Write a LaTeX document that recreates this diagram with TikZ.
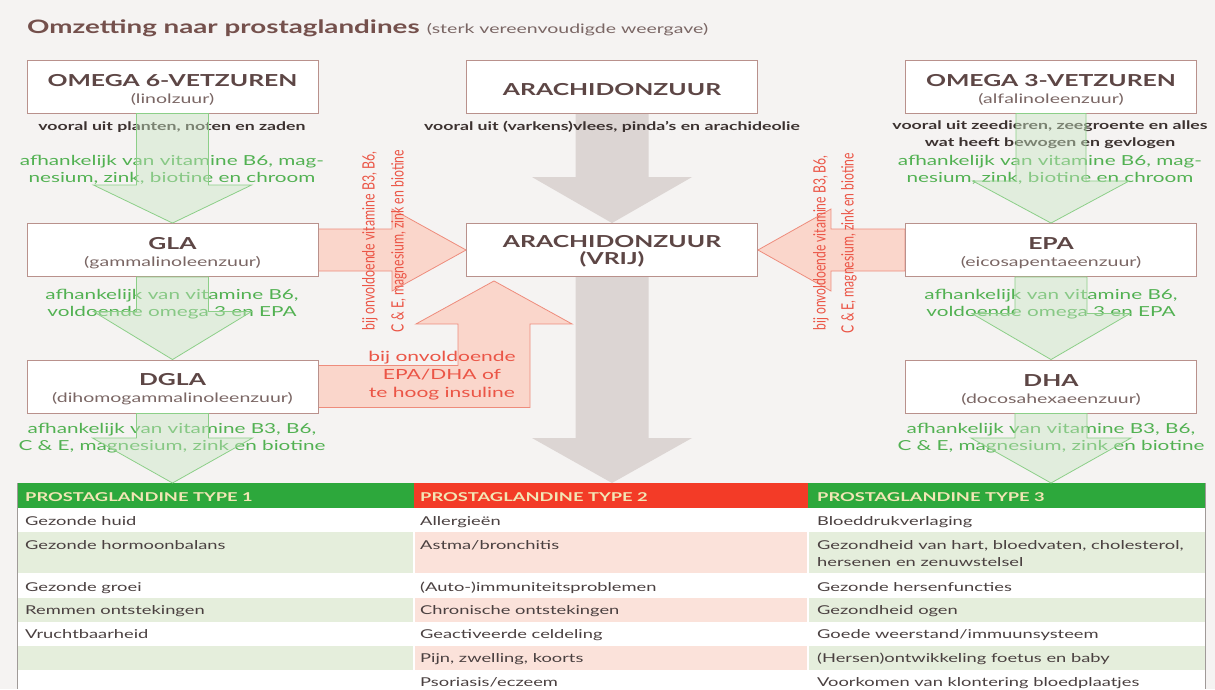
\documentclass[tikz,border=0pt]{standalone}
\usepackage{fontspec}
\usepackage{graphicx}
\setmainfont{Lato}[FakeStretch=1.5]
\newfontfamily\condfont{Lato}
\usetikzlibrary{calc}
\pgfdeclarelayer{back}
\pgfdeclarelayer{arrows}
\pgfsetlayers{back,arrows,main}
\definecolor{bg}{HTML}{F5F3F2}
\definecolor{boxline}{HTML}{B9918C}
\definecolor{titlec}{HTML}{74504C}
\definecolor{boxtxt}{HTML}{5D4645}
\definecolor{subtxt}{HTML}{7A6664}
\definecolor{darktxt}{HTML}{3C3230}
\definecolor{gtxt}{HTML}{52B152}
\definecolor{rtxt}{HTML}{EB5546}
\definecolor{gfill}{HTML}{C9E6C4}
\definecolor{gline}{HTML}{8CCF88}
\definecolor{grayfill}{HTML}{DCD5D3}
\definecolor{rfill}{HTML}{FAD6CB}
\definecolor{rline}{HTML}{EE8C7C}
\definecolor{ghead}{HTML}{2DA83C}
\definecolor{rhead}{HTML}{F33B27}
\definecolor{hdrtxt}{HTML}{F2E6B5}
\definecolor{gshade}{HTML}{E5EEDC}
\definecolor{rshade}{HTML}{FBE2DA}
\definecolor{celltxt}{HTML}{4A4040}
\definecolor{tableline}{HTML}{A09A98}
\newcommand{\bxt}[1]{{\fontsize{16.5}{18}\selectfont\bfseries #1}}
\newcommand{\bxs}[1]{{\fontsize{13}{14}\selectfont\color{subtxt}#1}}
\newcommand{\topgap}{\rule{0pt}{18pt}}
% vertical block arrow from the south of a node to a point
\newcommand{\downblock}[6]{%
  \draw[#1] let \p1=(#2.south), \p2=(#3) in
   (\x2-#4pt,\y1) -- (\x2+#4pt,\y1) -- (\x2+#4pt,\y2+#6pt) -- (\x2+#5pt,\y2+#6pt)
   -- (\p2) -- (\x2-#5pt,\y2+#6pt) -- (\x2-#4pt,\y2+#6pt) -- cycle;}
\tikzset{
  box/.style={draw=boxline, fill=white, line width=0.9pt, minimum width=291pt,
    minimum height=53pt, inner sep=0pt, align=center, text=boxtxt,
    font=\fontsize{16.5}{18}\selectfont},
  srcnote/.style={font=\fontsize{11.8}{17}\selectfont\bfseries, text=darktxt, align=center, inner sep=0pt},
  gnote/.style={font=\fontsize{13.8}{17}\selectfont, text=gtxt, align=center, inner sep=0pt},
  rnote/.style={font=\fontsize{14}{18}\selectfont, text=rtxt, align=center, inner sep=0pt},
  rot/.style={rotate=90, inner sep=0pt, text=rtxt, font=\condfont},
  garrow/.style={fill=gfill, fill opacity=0.45, draw=gline, line width=0.8pt},
  grarrow/.style={fill=grayfill, draw=none},
  rarrow/.style={fill=rfill, draw=rline, line width=0.8pt},
  cell/.style={anchor=base west, inner sep=0pt, font=\fontsize{12.2}{14}\selectfont, text=celltxt},
  hcell/.style={anchor=base west, inner sep=0pt, font=\fontsize{12.2}{14}\selectfont\bfseries, text=hdrtxt},
}
\begin{document}
\begin{tikzpicture}[x=1pt,y=-1pt]
\begin{pgfonlayer}{back}
\fill[bg] (0,0) rectangle (1215,689);
\end{pgfonlayer}
\useasboundingbox (0,0) rectangle (1215,689);

% title
\node[anchor=base west, inner sep=0pt, font=\fontsize{18.5}{22}\selectfont\bfseries, text=titlec] (title) at (27,33) {Omzetting naar prostaglandines};
\node[anchor=base west, inner sep=0pt, font=\fontsize{13}{15}\selectfont, text=subtxt] (subtitle) at ($(title.base east)+(7,0)$) {(sterk vereenvoudigde weergave)};

% table coordinates (arrow targets)
\coordinate (t1) at (172.5,483);
\coordinate (t2) at (612,483);
\coordinate (t3) at (1051,483);

% boxes
\node[box] (o6) at (172.5,86.5) {\topgap\bxt{OMEGA 6-VETZUREN}\\[-1pt]\bxs{(linolzuur)}};
\node[box] (ar) at (612,86.5) {\topgap\bxt{ARACHIDONZUUR}};
\node[box] (o3) at (1051,86.5) {\topgap\bxt{OMEGA 3-VETZUREN}\\[-1pt]\bxs{(alfalinoleenzuur)}};
\node[box] (gla) at (172.5,250) {\rule{0pt}{19pt}\bxt{GLA}\\[-1pt]\bxs{(gammalinoleenzuur)}};
\node[box] (vrij) at (612,250) {\rule{0pt}{14pt}\bxt{ARACHIDONZUUR}\\[-1pt]\bxt{(VRIJ)}};
\node[box] (epa) at (1051,250) {\rule{0pt}{19pt}\bxt{EPA}\\[-1pt]\bxs{(eicosapentaeenzuur)}};
\node[box] (dgla) at (172.5,386.5) {\topgap\bxt{DGLA}\\[-1pt]\bxs{(dihomogammalinoleenzuur)}};
\node[box] (dha) at (1051,386.5) {\topgap\bxt{DHA}\\[-1pt]\bxs{(docosahexaeenzuur)}};

\begin{pgfonlayer}{arrows}
% gray arrows
\downblock{grarrow}{ar}{vrij.north}{36.5}{80}{46}
\downblock{grarrow}{vrij}{t2}{36.5}{80}{45}
% red arrows
\draw[rarrow] let \p1=(gla.east), \p2=(vrij.west) in
  (\x1,\y1+21pt) -- (\x2-74pt,\y1+21pt) -- (\x2-74pt,\y1+41pt) -- (\x2,\y1)
  -- (\x2-74pt,\y1-41pt) -- (\x2-74pt,\y1-21pt) -- (\x1,\y1-21pt) -- cycle;
\draw[rarrow] let \p1=(epa.west), \p2=(vrij.east) in
  (\x1,\y1+21pt) -- (\x2+73pt,\y1+21pt) -- (\x2+73pt,\y1+41pt) -- (\x2,\y1)
  -- (\x2+73pt,\y1-41pt) -- (\x2+73pt,\y1-21pt) -- (\x1,\y1-21pt) -- cycle;
\draw[rarrow] let \p1=(dgla.east), \p2=(vrij.south) in
  (\x1,\y1+21pt) -- (\x2-154pt,\y1+21pt) -- (\x2-154pt,\y2-47pt) -- (\x2-196pt,\y2-47pt)
  -- (\x2-118pt,\y2-4pt) -- (\x2-40pt,\y2-47pt) -- (\x2-82pt,\y2-47pt)
  -- (\x2-82pt,\y1-21pt) -- (\x1,\y1-21pt) -- cycle;
\end{pgfonlayer}

% source notes
\node[srcnote] (s1) at (172,127) {vooral uit planten, noten en zaden};
\node[srcnote] (s2) at (612,127) {vooral uit (varkens)vlees, pinda's en arachideolie};
\node[srcnote] (s3) at (1050,134.5) {vooral uit zeedieren, zeegroente en alles\\wat heeft bewogen en gevlogen};

% red notes
\node[rnote] (r1) at (442,375.5) {bij onvoldoende\\EPA/DHA of\\te hoog insuline};
\node[rot] (rt1) at (370,241) {\resizebox{179pt}{12.5pt}{bij onvoldoende vitamine B3, B6,}};
\node[rot] (rt2) at (399,241) {\resizebox{182pt}{12.5pt}{C \& E, magnesium, zink en biotine}};
\node[rot] (rt3) at (821,243) {\resizebox{175pt}{12.5pt}{bij onvoldoende vitamine B3, B6,}};
\node[rot] (rt4) at (849,243) {\resizebox{180pt}{12.5pt}{C \& E, magnesium, zink en biotine}};

% green notes
\node[gnote] (g1) at (172,169.5) {afhankelijk van vitamine B6, mag-\\nesium, zink, biotine en chroom};
\node[gnote] (g2) at (172,304) {afhankelijk van vitamine B6,\\voldoende omega 3 en EPA};
\node[gnote] (g3) at (172,438.5) {afhankelijk van vitamine B3, B6,\\C \& E, magnesium, zink en biotine};
\node[gnote] (g4) at (1050,169.5) {afhankelijk van vitamine B6, mag-\\nesium, zink, biotine en chroom};
\node[gnote] (g5) at (1051,304) {afhankelijk van vitamine B6,\\voldoende omega 3 en EPA};
\node[gnote] (g6) at (1051,438.5) {afhankelijk van vitamine B3, B6,\\C \& E, magnesium, zink en biotine};

% table
\fill[white] (17,508) rectangle (1205,689);
\foreach \ya/\yb in {532/573, 598/622, 646/670}{
  \fill[gshade] (17,\ya) rectangle (413,\yb);
  \fill[rshade] (415,\ya) rectangle (807,\yb);
  \fill[gshade] (809,\ya) rectangle (1205,\yb);
}
\fill[ghead] (17,483) rectangle (414,508);
\fill[rhead] (414,483) rectangle (808,508);
\fill[ghead] (808,483) rectangle (1205,508);
\draw[tableline, line width=0.8pt] (17,483) -- (17,689);
\draw[tableline, line width=0.8pt] (1205,483) -- (1205,689);

% green arrows
\downblock{garrow}{o6}{gla.north}{36}{79}{38}
\downblock{garrow}{gla}{dgla.north}{36}{79}{48}
\downblock{garrow}{dgla}{t1}{36}{80}{45}
\downblock{garrow}{o3}{epa.north}{35}{78}{42}
\downblock{garrow}{epa}{dha.north}{36}{79}{46}
\downblock{garrow}{dha}{t3}{36}{80}{45}

% table texts
\node[hcell] (h1) at (25,501) {PROSTAGLANDINE TYPE 1};
\node[hcell] (h2) at (420,501) {PROSTAGLANDINE TYPE 2};
\node[hcell] (h3) at (817,501) {PROSTAGLANDINE TYPE 3};

\node[cell] (a1) at (25,525) {Gezonde huid};
\node[cell] (a2) at (25,549) {Gezonde hormoonbalans};
\node[cell] (a3) at (25,591) {Gezonde groei};
\node[cell] (a4) at (25,614) {Remmen ontstekingen};
\node[cell] (a5) at (25,638) {Vruchtbaarheid};

\node[cell] (b1) at (420,525) {Allergieën};
\node[cell] (b2) at (420,549) {Astma/bronchitis};
\node[cell] (b3) at (420,591) {(Auto-)immuniteitsproblemen};
\node[cell] (b4) at (420,614) {Chronische ontstekingen};
\node[cell] (b5) at (420,638) {Geactiveerde celdeling};
\node[cell] (b6) at (420,662) {Pijn, zwelling, koorts};
\node[cell] (b7) at (420,686) {Psoriasis/eczeem};

\node[cell] (c1) at (817,525) {Bloeddrukverlaging};
\node[cell] (c2) at (817,549) {Gezondheid van hart, bloedvaten, cholesterol,};
\node[cell] (c2b) at (817,566) {hersenen en zenuwstelsel};
\node[cell] (c3) at (817,591) {Gezonde hersenfuncties};
\node[cell] (c4) at (817,614) {Gezondheid ogen};
\node[cell] (c5) at (817,638) {Goede weerstand/immuunsysteem};
\node[cell] (c6) at (817,662) {(Hersen)ontwikkeling foetus en baby};
\node[cell] (c7) at (817,686) {Voorkomen van klontering bloedplaatjes};
\end{tikzpicture}
\end{document}
